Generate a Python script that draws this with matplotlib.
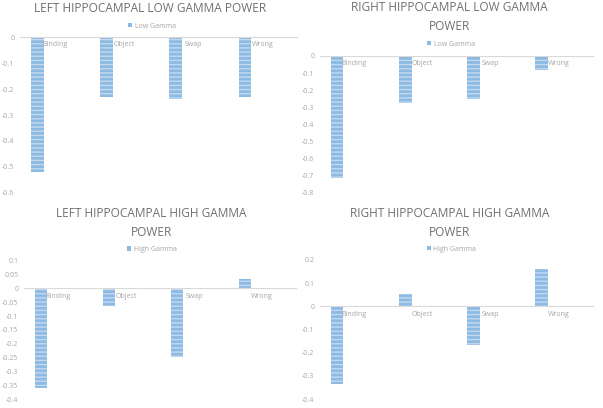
import matplotlib.pyplot as plt
from matplotlib.patches import Patch

plt.rcParams['font.family'] = ['Open Sans', 'DejaVu Sans']
plt.rcParams['hatch.linewidth'] = 1.0

categories = ['Binding', 'Object', 'Swap', 'Wrong']

left_low = [-0.519, -0.229, -0.238, -0.232]
right_low = [-0.715, -0.273, -0.250, -0.084]
left_high = [-0.361, -0.064, -0.247, 0.034]
right_high = [-0.335, 0.055, -0.168, 0.163]

titles = ['LEFT HIPPOCAMPAL LOW GAMMA POWER',
          'RIGHT HIPPOCAMPAL LOW GAMMA\nPOWER',
          'LEFT HIPPOCAMPAL HIGH GAMMA\nPOWER',
          'RIGHT HIPPOCAMPAL HIGH GAMMA\nPOWER']
series_names = ['Low Gamma', 'Low Gamma', 'High Gamma', 'High Gamma']

y_ticks = [
    [0, -0.1, -0.2, -0.3, -0.4, -0.5, -0.6],
    [0, -0.1, -0.2, -0.3, -0.4, -0.5, -0.6, -0.7, -0.8],
    [0.1, 0.05, 0, -0.05, -0.1, -0.15, -0.2, -0.25, -0.3, -0.35, -0.4],
    [0.2, 0.1, 0, -0.1, -0.2, -0.3, -0.4],
]

W, H = 603, 408
BAR = '#8DBAE3'
STRIPE = '#C2D9EF'
TXT = '#A6A6A6'

# pixel boxes: left, right, top, bottom of plot area
boxes = [(20, 297, 37.3, 192.7),
         (320, 593, 56, 192.7),
         (24, 296, 260.7, 399),
         (320, 593, 260, 399)]
title_xy = [(150.5, 9), (449.7, 17), (151, 223), (449.7, 223)]
legend_xy = [(152, 26), (451, 44), (152, 249.3), (451.5, 249)]

fig = plt.figure(figsize=(W / 100, H / 100), dpi=100)
fig.patch.set_facecolor('white')

all_vals = [left_low, right_low, left_high, right_high]
for k, vals in enumerate(all_vals):
    l, r, t, b = boxes[k]
    ax = fig.add_axes([l / W, 1 - b / H, (r - l) / W, (b - t) / H])
    x = [i - 0.25 for i in range(len(categories))]
    ax.bar(x, vals, width=0.185, color=BAR, edgecolor=STRIPE,
           linewidth=0, hatch='----')
    ax.set_xlim(-0.5, 3.5)
    ax.set_ylim(min(y_ticks[k]), max(y_ticks[k]))
    ax.set_yticks(y_ticks[k])
    ax.set_yticklabels([f'{v:g}' for v in y_ticks[k]])
    ax.set_xticks(range(len(categories)))
    ax.set_xticklabels(categories)
    for s in ['top', 'left', 'right']:
        ax.spines[s].set_visible(False)
    ax.spines['bottom'].set_position(('data', 0))
    ax.spines['bottom'].set_color('#D9D9D9')
    ax.spines['bottom'].set_linewidth(0.8)
    ax.tick_params(axis='both', length=0, labelsize=5, labelcolor=TXT)
    ax.tick_params(axis='x', pad=3)
    ax.tick_params(axis='y', pad=4)
    ax.set_facecolor('none')

    tx, ty = title_xy[k]
    fig.text(tx / W, 1 - ty / H, titles[k], ha='center', va='center',
             fontsize=8.6, color='#707070', linespacing=1.6)
    lx, ly = legend_xy[k]
    fig.legend(handles=[Patch(facecolor=BAR, edgecolor='none', label=series_names[k])],
               loc='center', bbox_to_anchor=(lx / W, 1 - ly / H), frameon=False,
               fontsize=5, labelcolor=TXT, handlelength=0.6, handleheight=0.6,
               handletextpad=0.4, borderpad=0)

fig.savefig('out.png', dpi=100, facecolor='white')
